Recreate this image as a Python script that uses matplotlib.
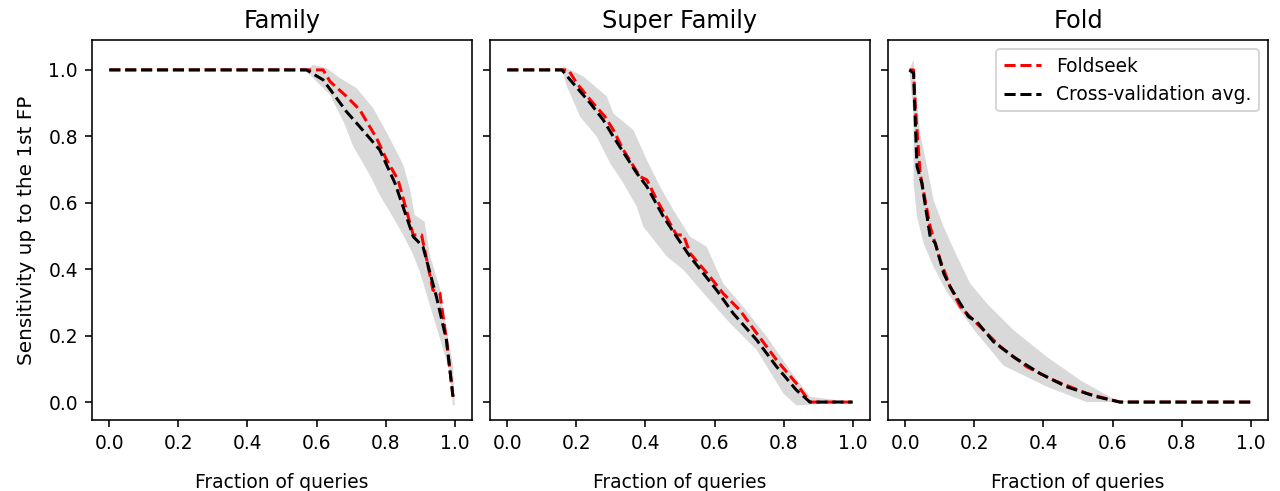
import numpy as np
import matplotlib
matplotlib.use("Agg")
import matplotlib.pyplot as plt

titles = ["Family", "Super Family", "Fold"]

# Family
fam_fs_x = [0.0, 0.619, 0.639, 0.687, 0.725, 0.754, 0.774, 0.803, 0.836, 0.860, 0.880, 0.904, 0.913, 0.937, 0.957, 0.976, 0.995]
fam_fs_y = [1.0, 1.0, 0.965, 0.920, 0.880, 0.829, 0.794, 0.729, 0.669, 0.578, 0.503, 0.503, 0.458, 0.337, 0.328, 0.187, 0.016]
fam_cv_x = [0.0, 0.571, 0.619, 0.687, 0.725, 0.783, 0.827, 0.880, 0.908, 0.947, 0.976, 0.995]
fam_cv_y = [1.0, 1.0, 0.970, 0.874, 0.829, 0.759, 0.659, 0.498, 0.468, 0.317, 0.187, 0.016]
fam_hi_x = [0.571, 0.590, 0.629, 0.668, 0.716, 0.764, 0.812, 0.851, 0.870, 0.884, 0.913, 0.928, 0.957, 0.976, 0.995, 1.0]
fam_hi_y = [1.0, 1.015, 1.005, 0.975, 0.945, 0.885, 0.794, 0.714, 0.644, 0.563, 0.543, 0.443, 0.342, 0.222, 0.111, -0.01]
fam_lo_x = [0.571, 0.639, 0.680, 0.706, 0.754, 0.783, 0.812, 0.851, 0.880, 0.899, 0.928, 0.957, 0.986, 0.995]
fam_lo_y = [0.995, 0.925, 0.840, 0.770, 0.684, 0.623, 0.573, 0.503, 0.443, 0.392, 0.292, 0.192, 0.091, -0.01]

# Super Family
sf_fs_x = [0.0, 0.177, 0.201, 0.240, 0.283, 0.307, 0.336, 0.384, 0.404, 0.433, 0.471, 0.490, 0.510, 0.529, 0.587, 0.625, 0.673, 0.722, 0.780, 0.837, 0.876, 1.0]
sf_fs_y = [1.0, 1.0, 0.960, 0.910, 0.859, 0.819, 0.759, 0.679, 0.669, 0.608, 0.538, 0.503, 0.503, 0.448, 0.377, 0.327, 0.277, 0.207, 0.126, 0.056, 0.0, 0.0]
sf_cv_x = [0.0, 0.158, 0.182, 0.240, 0.278, 0.307, 0.375, 0.404, 0.452, 0.490, 0.529, 0.606, 0.654, 0.722, 0.780, 0.837, 0.876, 1.0]
sf_cv_y = [1.0, 1.0, 0.970, 0.900, 0.849, 0.799, 0.689, 0.649, 0.558, 0.498, 0.438, 0.337, 0.267, 0.187, 0.106, 0.036, 0.0, 0.0]
sf_hi_x = [0.158, 0.163, 0.221, 0.288, 0.307, 0.365, 0.404, 0.442, 0.481, 0.529, 0.577, 0.625, 0.683, 0.751, 0.818, 0.876, 1.0]
sf_hi_y = [1.0, 1.010, 0.980, 0.920, 0.869, 0.819, 0.729, 0.649, 0.578, 0.498, 0.468, 0.357, 0.287, 0.197, 0.096, 0.016, 0.0]
sf_lo_x = [0.158, 0.173, 0.211, 0.259, 0.298, 0.336, 0.375, 0.394, 0.462, 0.510, 0.577, 0.645, 0.722, 0.799, 0.837, 1.0]
sf_lo_y = [1.0, 0.950, 0.859, 0.799, 0.719, 0.659, 0.588, 0.528, 0.438, 0.398, 0.317, 0.237, 0.157, 0.026, -0.01, 0.0]

# Fold
fo_fs_x = [0.012, 0.024, 0.029, 0.043, 0.072, 0.101, 0.130, 0.159, 0.197, 0.275, 0.352, 0.429, 0.525, 0.621, 1.0]
fo_fs_y = [1.0, 1.0, 0.890, 0.689, 0.528, 0.428, 0.347, 0.287, 0.247, 0.167, 0.106, 0.066, 0.026, 0.0, 0.0]
fo_cv_x = [0.012, 0.024, 0.029, 0.034, 0.048, 0.072, 0.087, 0.111, 0.130, 0.159, 0.183, 0.207, 0.255, 0.313, 0.390, 0.467, 0.554, 0.621, 1.0]
fo_cv_y = [1.0, 0.990, 0.840, 0.709, 0.659, 0.498, 0.478, 0.388, 0.347, 0.297, 0.257, 0.242, 0.182, 0.136, 0.086, 0.046, 0.016, 0.0, 0.0]
fo_hi_x = [0.012, 0.024, 0.034, 0.043, 0.063, 0.082, 0.111, 0.150, 0.188, 0.236, 0.313, 0.410, 0.506, 0.602, 0.65]
fo_hi_y = [1.0, 1.030, 0.910, 0.809, 0.709, 0.608, 0.528, 0.438, 0.357, 0.297, 0.217, 0.136, 0.066, 0.010, 0.0]
fo_lo_x = [0.012, 0.024, 0.024, 0.034, 0.053, 0.082, 0.121, 0.197, 0.284, 0.410, 0.525, 0.65]
fo_lo_y = [1.0, 0.859, 0.659, 0.558, 0.478, 0.407, 0.330, 0.220, 0.110, 0.046, 0.0, 0.0]

panels = [
    (fam_fs_x, fam_fs_y, fam_cv_x, fam_cv_y, fam_hi_x, fam_hi_y, fam_lo_x, fam_lo_y),
    (sf_fs_x, sf_fs_y, sf_cv_x, sf_cv_y, sf_hi_x, sf_hi_y, sf_lo_x, sf_lo_y),
    (fo_fs_x, fo_fs_y, fo_cv_x, fo_cv_y, fo_hi_x, fo_hi_y, fo_lo_x, fo_lo_y),
]

fs = 9.3
fig, axes = plt.subplots(1, 3, figsize=(1280 / 144, 491 / 144), dpi=144, sharey=True)
fig.subplots_adjust(left=92 / 1280, right=1268 / 1280, top=1 - 40 / 491, bottom=1 - 420 / 491, wspace=18 / 380)

for ax, title, (fx, fy, cx, cy, hx, hy, lx, ly) in zip(axes, titles, panels):
    ax.fill(np.concatenate([hx, lx[::-1]]), np.concatenate([hy, ly[::-1]]), color="#d9d9d9", lw=0)
    ax.plot(fx, fy, "--", color="red", label="Foldseek")
    ax.plot(cx, cy, "--", color="black", label="Cross-validation avg.")
    ax.set_title(title, fontsize=12)
    ax.set_xlabel("Fraction of queries", fontsize=fs, labelpad=10)
    ax.set_xlim(-0.05, 1.05)
    ax.set_ylim(-0.054, 1.09)
    ax.tick_params(labelsize=fs)

axes[0].set_ylabel("Sensitivity up to the 1st FP", fontsize=10, labelpad=6)
axes[2].legend(loc="upper right", fontsize=fs)

plt.savefig("out.png", dpi=144)
